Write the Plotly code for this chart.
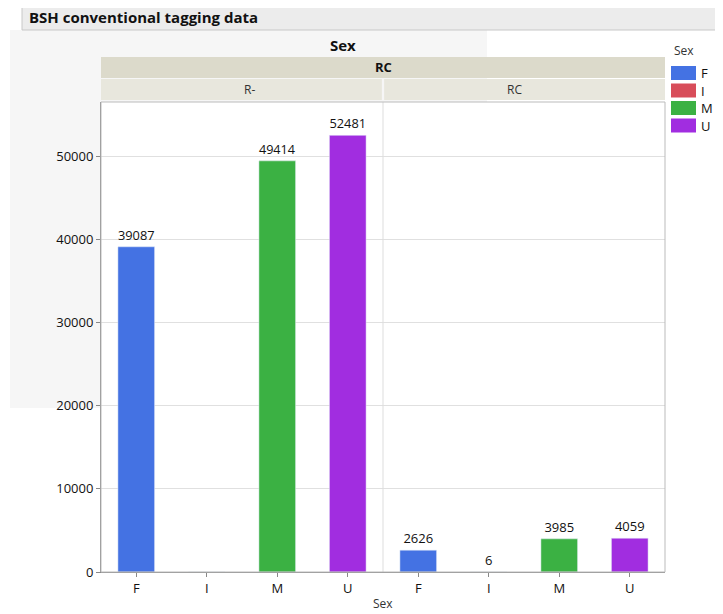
import plotly.graph_objects as go

sexes = ["F", "I", "M", "U"]
colors = ["#4472e3", "#d84d5a", "#3bb143", "#a12de0"]
groups = ["R-", "RC"]
values = {"R-": [39087, 0, 49414, 52481], "RC": [2626, 6, 3985, 4059]}
labels = {"R-": ["39087", "", "49414", "52481"], "RC": ["2626", "6", "3985", "4059"]}

OFF = 8  # page body margin
W, H = 723 - OFF, 614 - OFF
L, R, T, B = 101 - OFF, 58, 102 - OFF, 42
pw, ph = W - L - R, H - T - B
px = lambda x: (x - OFF - L) / pw
py = lambda y: (H - B - (y - OFF)) / ph

fig = go.Figure()
for gi, g in enumerate(groups):
    ax = "x" if gi == 0 else "x2"
    fig.add_trace(go.Bar(x=sexes, y=values[g], marker_color=colors, width=0.52,
                         text=labels[g], textposition="outside", cliponaxis=False,
                         textfont=dict(size=13, color="#111"), xaxis=ax, yaxis="y",
                         showlegend=False))

axis_common = dict(showline=True, linecolor="#888", ticks="outside", ticklen=4,
                   tickcolor="#888", tickfont=dict(size=13, color="#111"))
fig.update_layout(
    width=W, height=H, margin=dict(l=L, r=R, t=T, b=B),
    paper_bgcolor="rgba(0,0,0,0)", plot_bgcolor="white",
    font=dict(family="Open Sans, DejaVu Sans", color="#111"),
    xaxis=dict(domain=[0, 0.5], **axis_common),
    xaxis2=dict(domain=[0.5, 1], anchor="y", **axis_common),
    yaxis=dict(range=[0, 56490], dtick=10000, tickformat="d", gridcolor="#e0e0e0", **axis_common),
)
shapes = [
    dict(type="rect", xref="paper", yref="paper", x0=px(10), x1=px(101), y0=py(408), y1=py(30),
         fillcolor="#f6f6f6", line_width=0, layer="below"),
    dict(type="rect", xref="paper", yref="paper", x0=px(101), x1=px(487), y0=py(102), y1=py(30),
         fillcolor="#f6f6f6", line_width=0, layer="below"),
    dict(type="rect", xref="paper", yref="paper", x0=px(22), x1=px(723), y0=py(30), y1=py(5),
         fillcolor="#ececec", line=dict(color="#c8c8c8", width=1)),
    dict(type="rect", xref="paper", yref="paper", x0=0, x1=1, y0=py(78), y1=py(57),
         fillcolor="#dcdacb", line_width=0),
    dict(type="rect", xref="paper", yref="paper", x0=0, x1=0.498, y0=py(100), y1=py(79),
         fillcolor="#e8e7dd", line_width=0),
    dict(type="rect", xref="paper", yref="paper", x0=0.502, x1=1, y0=py(100), y1=py(79),
         fillcolor="#e8e7dd", line_width=0),
    dict(type="line", xref="paper", yref="paper", x0=0.5, x1=0.5, y0=0, y1=1,
         line=dict(color="#dddddd", width=1)),
    dict(type="rect", xref="paper", yref="paper", x0=0, x1=1, y0=0, y1=1,
         line=dict(color="#bbbbbb", width=1)),
]
ann = [
    dict(text="<b>BSH conventional tagging data</b>", x=px(27), y=py(17.5), xanchor="left",
         font=dict(size=15, color="#111")),
    dict(text="<b>Sex</b>", x=px(343), y=py(45), font=dict(size=15, color="#111")),
    dict(text="<b>RC</b>", x=0.5, y=py(67.5), font=dict(size=13, color="#111")),
    dict(text="R-", x=0.25, y=py(89.5), font=dict(size=12, color="#333")),
    dict(text="RC", x=0.75, y=py(89.5), font=dict(size=12, color="#333")),
    dict(text="Sex", x=0.5, y=py(603), font=dict(size=12, color="#333")),
    dict(text="Sex", x=px(672), y=py(51), xanchor="left", font=dict(size=12, color="#333")),
]
for i, (s, c) in enumerate(zip(sexes, colors)):
    yc = 73 + i * 17.5
    shapes.append(dict(type="rect", xref="paper", yref="paper", x0=px(671), x1=px(696),
                       y0=py(yc + 7), y1=py(yc - 7), fillcolor=c, line_width=0))
    ann.append(dict(text=s, x=px(699), y=py(yc), xanchor="left", font=dict(size=13, color="#111")))
for a in ann:
    a.update(xref="paper", yref="paper", showarrow=False, yanchor="middle")
fig.update_layout(shapes=shapes, annotations=ann)
fig.write_html("out.html")
